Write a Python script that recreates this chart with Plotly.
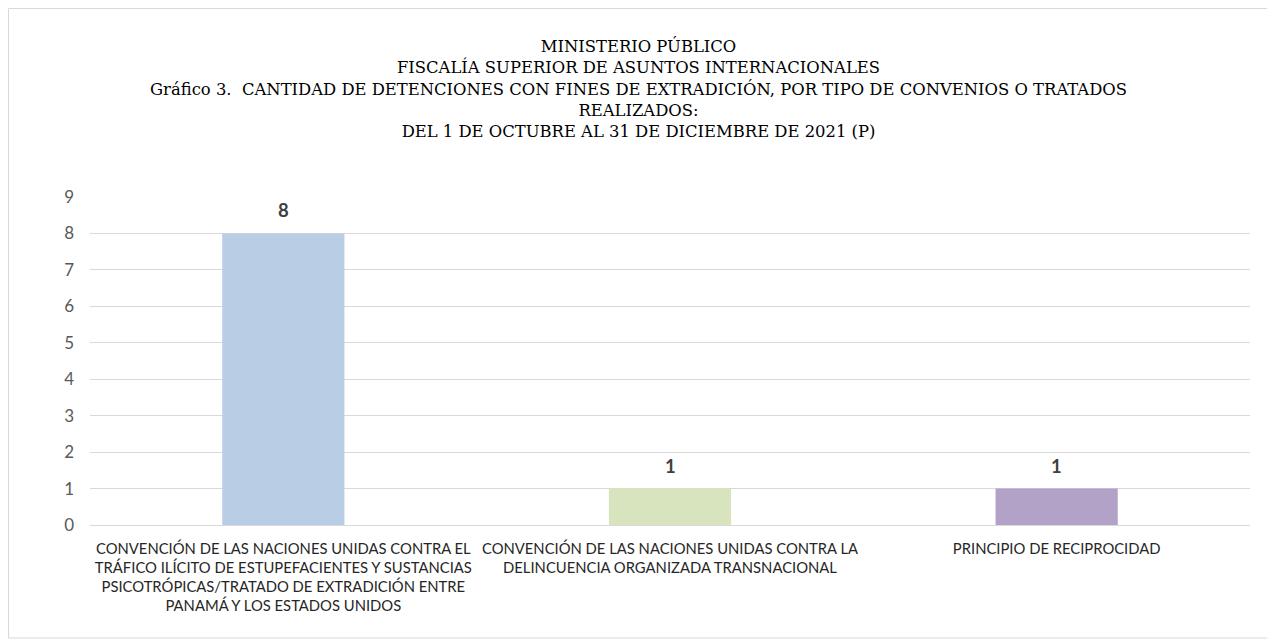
import plotly.graph_objects as go

categories = [
    "CONVENCIÓN DE LAS NACIONES UNIDAS CONTRA EL<br>TRÁFICO ILÍCITO DE ESTUPEFACIENTES Y SUSTANCIAS<br>PSICOTRÓPICAS/TRATADO DE EXTRADICIÓN ENTRE<br>PANAMÁ Y LOS ESTADOS UNIDOS",
    "CONVENCIÓN DE LAS NACIONES UNIDAS CONTRA LA<br>DELINCUENCIA ORGANIZADA TRANSNACIONAL",
    "PRINCIPIO DE RECIPROCIDAD",
]
values = [8, 1, 1]
colors = ["#B9CDE5", "#D7E4BD", "#B3A2C7"]
title_lines = [
    "MINISTERIO PÚBLICO",
    "FISCALÍA SUPERIOR DE ASUNTOS INTERNACIONALES",
    "Gráfico 3.  CANTIDAD DE DETENCIONES CON FINES DE EXTRADICIÓN, POR TIPO DE CONVENIOS O TRATADOS",
    "REALIZADOS:",
    "DEL 1 DE OCTUBRE AL 31 DE DICIEMBRE DE 2021 (P)",
]
yticks = list(range(0, 10))

OFF = 8  # page body margin
W, H = 1275 - OFF, 643 - OFF
L = 90 - OFF
R = W - (1250 - OFF)
T = 197 - OFF
B = H - (525 - OFF)
pw, ph = W - L - R, H - T - B

def px(x):
    return (x - OFF - L) / pw

def py(y):
    return (H - B - (y - OFF)) / ph

fig = go.Figure()
fig.add_trace(go.Bar(
    x=list(range(len(categories))),
    y=values,
    marker=dict(color=colors, line=dict(width=0)),
    cliponaxis=False,
    width=0.316,
    hoverinfo="x+y",
))

for i, v in enumerate(values):
    fig.add_annotation(
        x=i, y=v, xref="x", yref="y",
        text=f"<b>{v}</b>",
        showarrow=False,
        yanchor="bottom", yshift=10,
        font=dict(family="Lato", size=18.5, color="#404040"),
    )

fig.update_layout(
    width=W, height=H,
    margin=dict(l=L, r=R, t=T, b=B, autoexpand=False),
    paper_bgcolor="white", plot_bgcolor="white",
    showlegend=False,
    font=dict(family="Lato", color="#404040"),
    xaxis=dict(
        tickmode="array",
        tickvals=list(range(len(categories))),
        ticktext=categories,
        range=[-0.5, 2.5],
        showgrid=False,
        showline=True, linecolor="#D9D9D9", linewidth=1,
        ticks="",
        tickfont=dict(family="Lato", size=14.8, color="#262626"),
        ticklabelstandoff=10,
        zeroline=False,
    ),
    yaxis=dict(
        range=[0, 9],
        tickmode="array",
        tickvals=yticks,
        ticktext=[str(v) for v in yticks],
        showgrid=True, gridcolor="#D9D9D9", gridwidth=1,
        zeroline=False,
        showline=False,
        ticks="",
        tickfont=dict(family="Lato", size=17, color="#595959"),
        ticklabelstandoff=15,
    ),
)

fig.add_annotation(
    xref="paper", yref="paper",
    x=px(638), y=py(34),
    xanchor="center", yanchor="top",
    text="<br>".join(title_lines),
    showarrow=False,
    align="center",
    font=dict(family="DejaVu Serif", size=16.4, color="#000000"),
)

fig.add_shape(
    type="rect", xref="paper", yref="paper",
    x0=px(8.5), x1=px(1267.5), y0=py(638), y1=py(8.5),
    line=dict(color="#D9D9D9", width=1),
    fillcolor="rgba(0,0,0,0)",
    layer="below",
)

fig.write_html("out.html")
